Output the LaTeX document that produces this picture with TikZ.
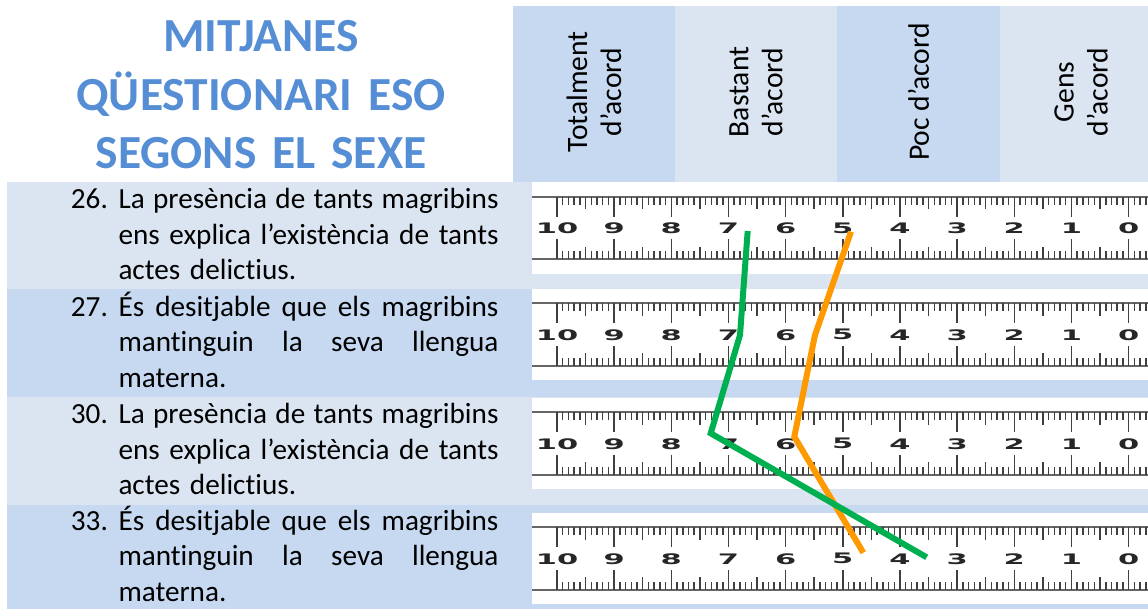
\documentclass[tikz,border=0pt]{standalone}
\usepackage{fontspec}
\setmainfont{Carlito}[Ligatures=NoCommon]
\newfontfamily\rulerfont{DejaVu Sans}
\usepackage{xcolor}
\usepackage{graphicx}
\usepackage{tikz}

\definecolor{hdark}{HTML}{C6D9F1}
\definecolor{hlight}{HTML}{DBE5F1}
\definecolor{titleblue}{HTML}{558ED5}
\definecolor{lgreen}{HTML}{00B050}
\definecolor{lorange}{HTML}{FF9900}

\tikzset{
	title/.style={anchor=base, align=center, text width=520pt, inner sep=0pt, text=titleblue,
		font=\bfseries\fontsize{47.5}{58.3}\selectfont},
	hcell/.style={rotate=90, align=center, inner sep=0pt, font=\fontsize{29.6}{34}\selectfont},
	num/.style={anchor=base west, inner sep=0pt, font=\fontsize{29.2}{35.8}\selectfont},
	item/.style={anchor=base west, text width=380pt, align=left, inner sep=0pt,
		font=\fontsize{29.2}{35.8}\selectfont},
	rline/.style={draw=black!60, line width=2pt},
	tick/.style={draw=black!75, line width=1.5pt},
	rnum/.style={inner sep=0pt, text=black!85, font=\rulerfont\bfseries\fontsize{14.5}{15}\selectfont},
	dataline/.style={line width=6pt, line join=miter}
}

\newcommand{\fullline}[1]{{\spaceskip=0pt\xspaceskip=0pt\makebox[380pt][s]{#1}}}

\begin{document}
\begin{tikzpicture}[x=1pt, y=-1pt]
			\useasboundingbox (0,0) rectangle (1148,608);
			\clip (0,0) rectangle (1148,608);

			% header
			\fill[hdark] (513,6) rectangle (675,182);
			\fill[hlight] (675,6) rectangle (837,182);
			\fill[hdark] (837,6) rectangle (1000,182);
			\fill[hlight] (1000,6) rectangle (1162,182);

			\node[title] (title) at (261,51.7) {MITJANES\\QÜESTIONARI ESO\\SEGONS EL SEXE};
			\node[hcell] (h1) at (594,92) {Totalment\\d’acord};
			\node[hcell] (h2) at (756,92) {Bastant\\d’acord};
			\node[hcell] (h3) at (918.5,92) {Poc d’acord};
			\node[hcell] (h4) at (1081,92) {Gens\\d’acord};

			% rows
			\fill[hlight] (7,182) rectangle (1162,288.5);
			\fill[hdark] (7,288.5) rectangle (1162,397);
			\fill[hlight] (7,397) rectangle (1162,505);
			\fill[hdark] (7,505) rectangle (1162,610);

			\node[num] (n26) at (70.7,208.3) {26.};
			\node[item] (t26) at (118.3,208.3) {\fullline{La presència de tants magribins}\\
				\fullline{ens explica l’existència de tants}\\actes delictius.};
			\node[num] (n27) at (70.7,316) {27.};
			\node[item] (t27) at (118.3,316) {\fullline{És desitjable que els magribins}\\
				\fullline{mantinguin la seva llengua}\\materna.};
			\node[num] (n30) at (70.7,423.3) {30.};
			\node[item] (t30) at (118.3,423.3) {\fullline{La presència de tants magribins}\\
				\fullline{ens explica l’existència de tants}\\actes delictius.};
			\node[num] (n33) at (70.7,530) {33.};
			\node[item] (t33) at (118.3,530) {\fullline{És desitjable que els magribins}\\
				\fullline{mantinguin la seva llengua}\\materna.};

			% rulers
			\foreach \t [count=\k] in {196.7,303.3,412.3,527.3} {
				\fill[white] (532,\t-14.5) rectangle (1162,\t+77);
				\draw[rline] (532,\t) -- (1162,\t);
				\draw[rline] (532,\t+62.5) -- (1162,\t+62.5);
				\foreach \i in {0,...,104} {
					\pgfmathsetmacro\len{ifthenelse(mod(\i,10)==0,20,ifthenelse(mod(\i,5)==0,12.5,8))}
					\draw[tick] (557+\i*5.716,\t) -- ++(0,\len);
					\draw[tick] (557+\i*5.716,\t+62.5) -- ++(0,-\len);
				}
				\foreach \n in {0,...,10}
					\node[rnum] (d\k-\n) at (557+10*57.16-\n*57.16,\t+31.5) {\scalebox{2.1}[1]{\n}};
			}

			% means
			\coordinate (o26) at (851,231.7);
			\coordinate (o27) at (815,335);
			\coordinate (o30) at (794.3,436.7);
			\coordinate (o33) at (863.3,552.7);
			\coordinate (g26) at (747.7,231);
			\coordinate (g27) at (740,335);
			\coordinate (g30) at (710.7,433.3);
			\coordinate (g33) at (926.7,557.3);
			\draw[dataline, lorange] (o26) -- (o27) -- (o30) -- (o33);
			\draw[dataline, lgreen] (g26) -- (g27) -- (g30) -- (g33);
		\end{tikzpicture}
\end{document}
